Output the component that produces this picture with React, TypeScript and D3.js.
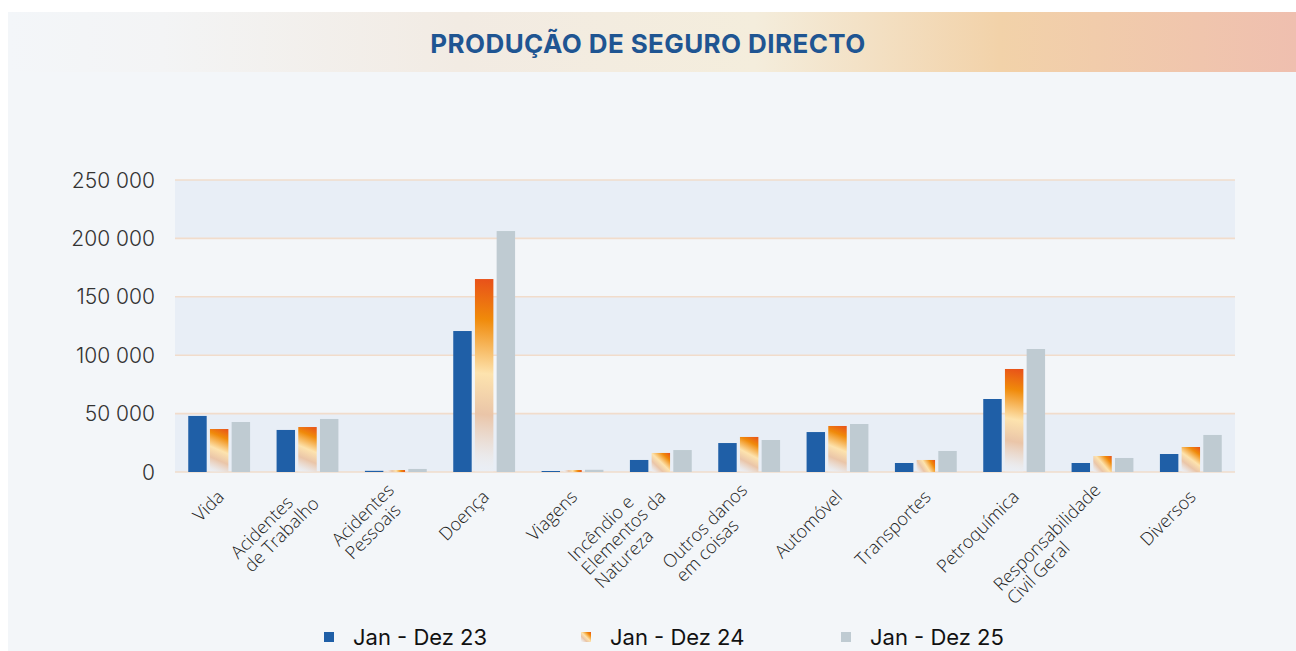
import React, { useEffect, useRef } from "react";
import * as d3 from "d3";

const categories = [
  "Vida",
  "Acidentes\nde Trabalho",
  "Acidentes\nPessoais",
  "Doença",
  "Viagens",
  "Incêndio e\nElementos da\nNatureza",
  "Outros danos\nem coisas",
  "Automóvel",
  "Transportes",
  "Petroquímica",
  "Responsabilidade\nCivil Geral",
  "Diversos",
];
const seriesNames = ["Jan - Dez 23", "Jan - Dez 24", "Jan - Dez 25"];
const values23 = [48000, 36000, 1000, 120700, 850, 10300, 24800, 34200, 7700, 62500, 7700, 15400];
const values24 = [36800, 38500, 1700, 165200, 1700, 16300, 30000, 39400, 10300, 88200, 13700, 21400];
const values25 = [42800, 45400, 2600, 206300, 1900, 18800, 27400, 41100, 18000, 105300, 12000, 31700];
const yTicks = [0, 50000, 100000, 150000, 200000, 250000];
const title = "PRODUÇÃO DE SEGURO DIRECTO";

const W = 1296;
const H = 651;

export default function App() {
  const ref = useRef<SVGSVGElement | null>(null);

  useEffect(() => {
    const svg = d3.select(ref.current);
    svg.selectAll("*").remove();

    const defs = svg.append("defs");

    // background panel
    svg.append("rect").attr("x", 0).attr("y", 0).attr("width", W).attr("height", H).attr("fill", "#ffffff");
    svg.append("rect").attr("x", 8).attr("y", 12).attr("width", W - 8).attr("height", H - 12).attr("fill", "#f3f6f9");

    // title band gradient
    const tg = defs.append("linearGradient").attr("id", "titleGrad").attr("x1", "0").attr("x2", "1").attr("y1", "0").attr("y2", "0");
    const tstops = [
      [0, "#f3f6f9"],
      [0.12, "#f3f4f5"],
      [0.35, "#f2ebe3"],
      [0.58, "#f4eddc"],
      [0.77, "#f2d2a9"],
      [1, "#efbfaf"],
    ];
    tstops.forEach(([o, c]) => tg.append("stop").attr("offset", o as number).attr("stop-color", c as string));
    svg.append("rect").attr("x", 8).attr("y", 12).attr("width", W - 8).attr("height", 60).attr("fill", "url(#titleGrad)");
    svg
      .append("text")
      .attr("x", 648)
      .attr("y", 53)
      .attr("text-anchor", "middle")
      .attr("font-family", "Inter, 'Noto Sans', sans-serif")
      .attr("font-weight", 700)
      .attr("font-size", 26)
      .attr("letter-spacing", 0.4)
      .attr("fill", "#1f5592")
      .text(title);

    const left = 175;
    const right = 1235;
    const y0 = 472;
    const yTop = 180;

    const y = d3.scaleLinear().domain([0, 250000]).range([y0, yTop]);
    const x0 = d3.scaleBand<string>().domain(categories).range([left, right]).paddingInner(0.3).paddingOuter(0.15);
    const x1 = d3.scaleBand<number>().domain([0, 1, 2]).range([0, x0.bandwidth()]).paddingInner(0.15);

    // alternating bands
    for (let i = 0; i < yTicks.length - 1; i += 2) {
      svg
        .append("rect")
        .attr("x", left)
        .attr("y", y(yTicks[i + 1]))
        .attr("width", right - left)
        .attr("height", y(yTicks[i]) - y(yTicks[i + 1]))
        .attr("fill", "#e8eef6");
    }
    // grid lines
    svg
      .append("g")
      .selectAll("line")
      .data(yTicks)
      .join("line")
      .attr("x1", left)
      .attr("x2", right)
      .attr("y1", (d) => y(d))
      .attr("y2", (d) => y(d))
      .attr("stroke", "#f1dccb")
      .attr("stroke-width", 1.6);

    // y tick labels
    const fmt = (v: number) => d3.format(",")(v).replace(/,/g, " ");
    svg
      .append("g")
      .selectAll("text")
      .data(yTicks)
      .join("text")
      .attr("x", 155)
      .attr("y", (d) => y(d))
      .attr("dy", "0.36em")
      .attr("text-anchor", "end")
      .attr("font-family", "Inter, sans-serif")
      .attr("font-weight", 300)
      .attr("font-size", 21)
      .attr("fill", "#333")
      .text((d) => fmt(d));

    const stopsOrange: [number, string, number][] = [
      [0, "#eef0f4", 0.2],
      [0.1, "#ebe6e4", 0.8],
      [0.3, "#eac5a8", 1],
      [0.51, "#fde3ae", 1],
      [0.79, "#f08a0a", 1],
      [1, "#e8501a", 1],
    ];

    const seriesVals = [values23, values24, values25];
    const gBars = svg.append("g");
    seriesVals.forEach((vals, si) => {
      vals.forEach((v, ci) => {
        const cat = categories[ci];
        const bx = (x0(cat) as number) + (x1(si) as number);
        const bw = x1.bandwidth();
        const by = y(v);
        const bh = y0 - by;
        let fill = si === 0 ? "#1f5fa7" : "#bfcbd2";
        if (si === 1) {
          const id = `og${ci}`;
          const g = defs
            .append("linearGradient")
            .attr("id", id)
            .attr("gradientUnits", "userSpaceOnUse")
            .attr("x1", bx)
            .attr("y1", y0)
            .attr("x2", bx + bw)
            .attr("y2", by);
          stopsOrange.forEach(([o, c, a]) => g.append("stop").attr("offset", o).attr("stop-color", c).attr("stop-opacity", a));
          fill = `url(#${id})`;
        }
        gBars.append("rect").attr("x", bx).attr("y", by).attr("width", bw).attr("height", bh).attr("fill", fill);
      });
    });

    // x labels
    const lh = 19;
    const gLab = svg
      .append("g")
      .attr("font-family", "'Open Sans', sans-serif")
      .attr("font-weight", 300)
      .attr("font-size", 18)
      .attr("fill", "#1e1e1e");
    categories.forEach((cat) => {
      const lines = cat.split("\n");
      const cx = (x0(cat) as number) + x0.bandwidth() / 2;
      const g = gLab.append("g").attr("transform", `translate(${cx + 6},${498}) rotate(-45)`);
      const texts = lines.map((ln, i) =>
        g
          .append("text")
          .attr("y", (i - (lines.length - 1) / 2) * lh)
          .text(ln)
      );
      const widths = texts.map((t) => (t.node() as SVGTextElement).getComputedTextLength());
      const maxW = Math.max(...widths);
      texts.forEach((t) => t.attr("x", -maxW));
    });

    // legend
    const lg = defs
      .append("linearGradient")
      .attr("id", "legGrad")
      .attr("x1", "0")
      .attr("y1", "1")
      .attr("x2", "1")
      .attr("y2", "0");
    stopsOrange.forEach(([o, c, a]) => lg.append("stop").attr("offset", o).attr("stop-color", c).attr("stop-opacity", a));
    const legX = [324, 581, 841];
    const legFill = ["#1f5fa7", "url(#legGrad)", "#bfcbd2"];
    seriesNames.forEach((name, i) => {
      svg.append("rect").attr("x", legX[i]).attr("y", 632).attr("width", 10).attr("height", 10).attr("fill", legFill[i]);
      svg
        .append("text")
        .attr("x", legX[i] + 29)
        .attr("y", 645)
        .attr("font-family", "Inter, sans-serif")
        .attr("font-size", 22)
        .attr("fill", "#111")
        .text(name);
    });
  }, []);

  return (
    <svg
      ref={ref}
      width={W}
      height={H}
      style={{ position: "absolute", left: 0, top: 0, display: "block" }}
    />
  );
}
